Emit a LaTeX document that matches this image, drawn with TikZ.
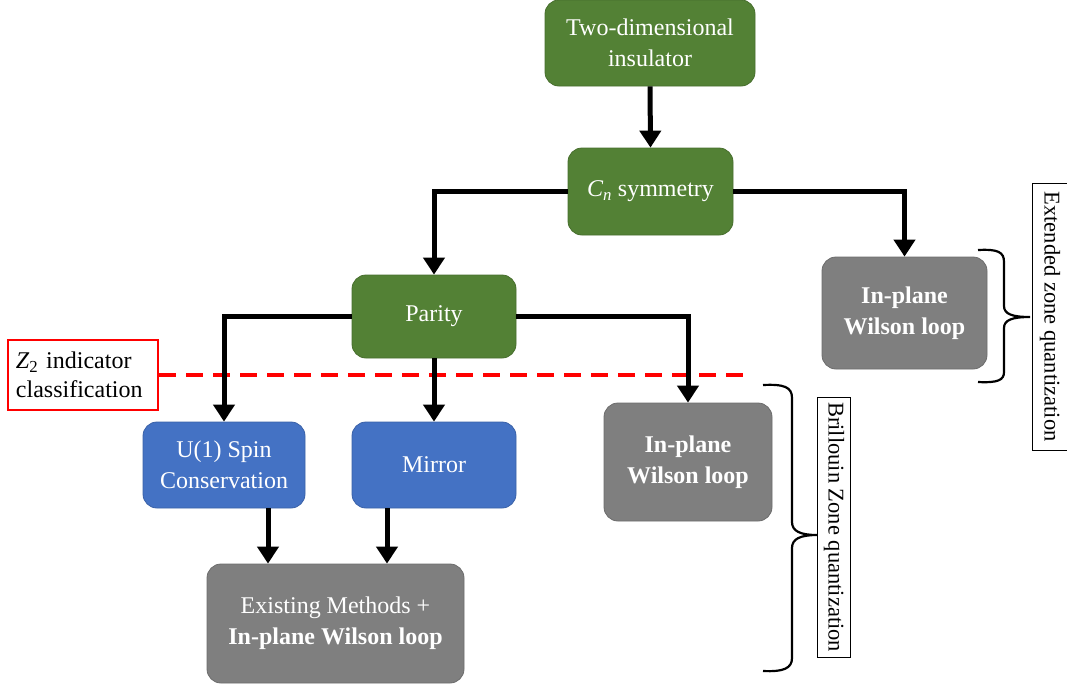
\documentclass[tikz,border=0pt]{standalone}
\usepackage{fontspec}
\setmainfont{Liberation Serif}
\usetikzlibrary{arrows.meta}
\definecolor{grn}{HTML}{538135}
\definecolor{blu}{HTML}{4472C4}
\definecolor{gry}{HTML}{7F7F7F}
\definecolor{rd}{HTML}{FF0000}
\tikzset{
  box/.style={rounded corners=14pt, draw=#1!85!black, line width=0.8pt, fill=#1, text=white, align=center, inner sep=0pt, font=\fontsize{24}{31}\selectfont},
  flow/.style={line width=5pt, -{Triangle[width=21pt,length=17pt]}},
  brc/.style={line width=2.2pt},
  lbl/.style={draw, line width=0.8pt, fill=white, inner sep=0pt, font=\fontsize{22.5}{26}\selectfont},
}
\begin{document}
\begin{tikzpicture}[x=1pt,y=-1pt]
\useasboundingbox (0,0) rectangle (1067,686);
% nodes
\node[box=grn, minimum width=210pt, minimum height=86pt] (ins) at (650,43) {Two-dimensional\\insulator};
\node[box=grn, minimum width=165pt, minimum height=87pt] (cn) at (650.5,191.5) {{\itshape C}\textsubscript{\itshape n} symmetry};
\node[box=grn, minimum width=164pt, minimum height=83pt] (par) at (434,316.5) {Parity};
\node[box=gry, minimum width=165pt, minimum height=112pt, font=\fontsize{24}{31}\selectfont\bfseries] (ext) at (904.5,313) {In-plane\\Wilson loop};
\node[box=blu, minimum width=162pt, minimum height=86pt] (u1) at (224,465) {U(1) Spin\\Conservation};
\node[box=blu, minimum width=164pt, minimum height=86pt] (mir) at (434,465) {Mirror};
\node[box=gry, minimum width=168pt, minimum height=118pt, font=\fontsize{24}{31}\selectfont\bfseries] (bz) at (688,462) {In-plane\\Wilson loop};
\node[box=gry, minimum width=257pt, minimum height=119pt] (exi) at (335.5,623.5) {Existing Methods +\\\textbf{In-plane Wilson loop}};
% Z2 box and dashed line
\node[draw=rd, line width=2.5pt, fill=white, minimum height=70pt, text width=134pt, inner xsep=8pt, inner ysep=0pt, align=left, font=\fontsize{24}{29}\selectfont] (z2) at (83,375) {{\itshape Z}\textsubscript{2} indicator\\classification};
\coordinate (dend) at (745,375);
\draw[rd, line width=3.5pt, dash pattern=on 17pt off 10pt] (z2.east) -- (dend);
% connectors
\draw[flow] (ins.south) -- (cn.north);
\draw[flow] (cn.west) -| (par.north);
\draw[flow] (cn.east) -| (ext.north);
\draw[flow] (par.west) -| (u1.north);
\draw[flow] (par.south) -- (mir.north);
\draw[flow] (par.east) -| (bz.north);
\coordinate (u1b) at ([xshift=44pt]u1.south);
\coordinate (mirb) at ([xshift=-47pt]mir.south);
\draw[flow] (u1b) -- (u1b |- exi.north);
\draw[flow] (mirb) -- (mirb |- exi.north);
% braces
\draw[brc] (978,250) .. controls (998,249) and (1004,252) .. (1004,262) -- (1004,306) .. controls (1004,314) and (1012,317) .. (1030,317)
  .. controls (1012,317) and (1004,320) .. (1004,328) -- (1004,372) .. controls (1004,380) and (998,383) .. (978,382);
\draw[brc] (763,385) .. controls (784,384) and (792,387) .. (792,398) -- (792,522) .. controls (792,531) and (800,535) .. (817,535)
  .. controls (800,535) and (792,539) .. (792,548) -- (792,658) .. controls (792,668) and (784,672) .. (763,671);
% labels
\node[lbl, minimum width=267pt, minimum height=35pt, rotate=-90] (elab) at (1050,316.5) {Extended zone quantization};
\node[lbl, minimum width=260pt, minimum height=33pt, rotate=-90] (blab) at (834,527) {Brillouin Zone quantization};
\end{tikzpicture}
\end{document}
